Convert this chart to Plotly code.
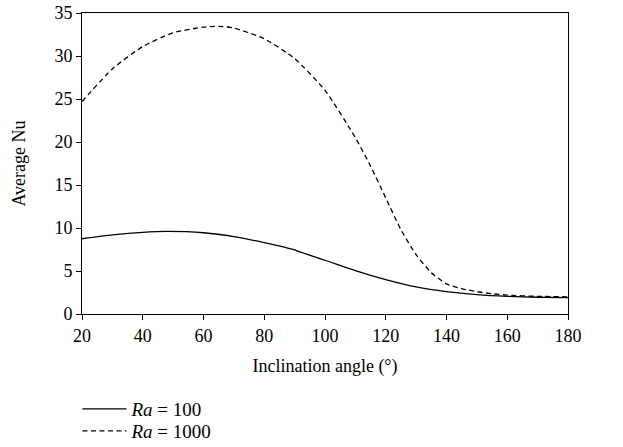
import plotly.graph_objects as go

angle_ra100 = [20, 30, 40, 48, 60, 70, 80, 90, 91, 100, 110, 120, 130, 140, 150, 160, 170, 180]
nu_ra100 = [8.75, 9.2, 9.5, 9.6, 9.45, 9.0, 8.3, 7.45, 7.3, 6.25, 5.05, 4.0, 3.15, 2.6, 2.25, 2.05, 1.95, 1.9]

angle_ra1000 = [20, 30, 40, 50, 60, 65, 70, 80, 90, 100, 110, 115, 120, 125, 130, 135, 140, 145, 150, 155, 160, 170, 180]
nu_ra1000 = [24.7, 28.5, 31.1, 32.7, 33.35, 33.45, 33.25, 32.0, 29.7, 26.0, 20.5, 17.2, 13.5, 9.8, 6.9, 4.8, 3.5, 2.95, 2.6, 2.35, 2.2, 2.05, 2.0]

x_ticks = [20, 40, 60, 80, 100, 120, 140, 160, 180]
y_ticks = [0, 5, 10, 15, 20, 25, 30, 35]

FONT = "Liberation Serif"

fig = go.Figure()
fig.add_trace(go.Scatter(x=angle_ra100, y=nu_ra100, mode="lines", name="<i>Ra</i> = 100",
                         legend="legend",
                         line=dict(color="black", width=1.3, shape="spline", smoothing=0.6)))
fig.add_trace(go.Scatter(x=angle_ra1000, y=nu_ra1000, mode="lines", name="<i>Ra</i> = 1000",
                         legend="legend2",
                         line=dict(color="black", width=1.3, dash="5px,3.5px", shape="spline", smoothing=0.6)))

legend_common = dict(x=-0.0093, xanchor="left", yref="container", yanchor="middle",
                     font=dict(family=FONT, size=19, color="black"), itemwidth=44,
                     bgcolor="rgba(0,0,0,0)")

fig.update_layout(
    width=623, height=447,
    margin=dict(l=82, r=55, t=13, b=133, autoexpand=False),
    paper_bgcolor="white", plot_bgcolor="white",
    font=dict(family=FONT, size=18, color="black"),
    showlegend=True,
    legend=dict(y=1 - 409 / 447, **legend_common),
    legend2=dict(y=1 - 431 / 447, **legend_common),
    xaxis=dict(range=[20, 180], tickvals=x_ticks, ticks="outside", ticklen=5, tickcolor="black",
               showline=True, linecolor="black", linewidth=1, mirror=True, showgrid=False, zeroline=False,
               title=dict(text="Inclination angle (°)", standoff=14, font=dict(family=FONT, size=18))),
    yaxis=dict(range=[0, 35], tickvals=y_ticks, ticks="outside", ticklen=5, tickcolor="black",
               showline=True, linecolor="black", linewidth=1, mirror=True, showgrid=False, zeroline=False,
               title=dict(text="Average Nu", standoff=24, font=dict(family=FONT, size=18))),
)

fig.write_html("out.html")
